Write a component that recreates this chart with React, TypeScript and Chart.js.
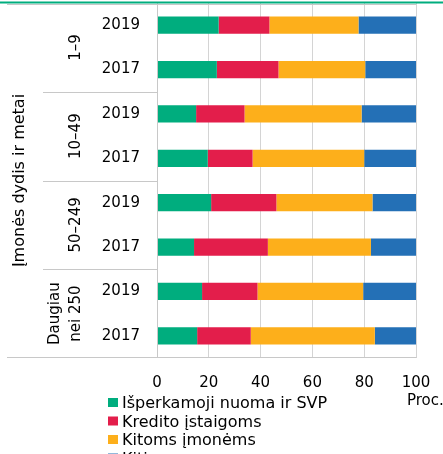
import React, { useEffect, useRef } from "react";
import { Chart, registerables } from "chart.js";

Chart.register(...registerables);

const categories = ["2019", "2017", "2019", "2017", "2019", "2017", "2019", "2017"];
const groupLabels: string[][] = [["1–9"], ["10–49"], ["50–249"], ["Daugiau", "nei 250"]];
const seriesNames = ["Išperkamoji nuoma ir SVP", "Kredito įstaigoms", "Kitoms įmonėms", "Kiti"];
const leasing = [23.8, 23.1, 15.1, 19.6, 20.9, 14.3, 17.4, 15.5];
const credit = [19.6, 23.8, 18.7, 17.3, 25.2, 28.5, 21.4, 20.7];
const otherCompanies = [34.4, 33.5, 45.2, 43.1, 37.1, 39.8, 40.8, 47.9];
const others = [22.2, 19.6, 21.0, 20.0, 16.8, 17.4, 20.4, 15.9];
const yTitle = "Įmonės dydis ir metai";
const xUnit = "Proc.";

const colors = ["#00ad7e", "#e31e4b", "#fdaf1b", "#2470b6"];
const FONT = "DejaVu Sans";
const GRID = "#d4d4d4";

const decorPlugin = {
  id: "decor",
  afterDraw(chart: any) {
    const ctx = chart.ctx as CanvasRenderingContext2D;
    const area = chart.chartArea;
    const y = chart.scales.y;
    ctx.save();
    // frame lines
    ctx.strokeStyle = "#c8c8c8";
    ctx.lineWidth = 1;
    ctx.beginPath();
    ctx.moveTo(7, 4.5);
    ctx.lineTo(area.right, 4.5);
    ctx.moveTo(7, area.bottom - 0.5);
    ctx.lineTo(area.right + 0.5, area.bottom - 0.5);
    ctx.moveTo(area.left + 0.5, 4);
    ctx.lineTo(area.left + 0.5, area.bottom);
    // group separators
    for (let g = 1; g < groupLabels.length; g++) {
      const sy = Math.round((y.getPixelForValue(2 * g - 1) + y.getPixelForValue(2 * g)) / 2) + 0.5;
      ctx.moveTo(43, sy);
      ctx.lineTo(area.left, sy);
    }
    ctx.stroke();
    // top green line
    ctx.fillStyle = "#00ad7e";
    ctx.fillRect(0, 1.5, chart.width, 2);

    ctx.fillStyle = "#000";
    ctx.textAlign = "center";
    ctx.textBaseline = "middle";
    // y title
    ctx.font = `16px ${FONT}`;
    ctx.save();
    ctx.translate(20, (area.top + area.bottom) / 2);
    ctx.rotate(-Math.PI / 2);
    ctx.fillText(yTitle, 0, 0);
    ctx.restore();
    // group labels
    ctx.font = `15px ${FONT}`;
    groupLabels.forEach((lines, g) => {
      const cy = (y.getPixelForValue(2 * g) + y.getPixelForValue(2 * g + 1)) / 2;
      ctx.save();
      if (lines.length === 1) {
        ctx.translate(76, cy);
        ctx.rotate(-Math.PI / 2);
        ctx.fillText(lines[0], 0, 0);
      } else {
        ctx.translate(66, cy);
        ctx.rotate(-Math.PI / 2);
        ctx.fillText(lines[0], 0, -10.5);
        ctx.fillText(lines[1], 0, 10.5);
      }
      ctx.restore();
    });
    // unit
    ctx.textAlign = "left";
    ctx.textBaseline = "alphabetic";
    ctx.fillText(xUnit, 407, 405);
    // legend
    ctx.font = `16px ${FONT}`;
    chart.data.datasets.forEach((ds: any, i: number) => {
      const base = 408 + i * 18.5;
      ctx.fillStyle = ds.backgroundColor;
      ctx.fillRect(108, base - 10, 10, 9);
      ctx.fillStyle = "#000";
      ctx.fillText(ds.label, 122, base);
    });
    ctx.restore();
  },
};

export default function App() {
  const ref = useRef<HTMLCanvasElement>(null);
  useEffect(() => {
    document.body.style.margin = "0";
    const series = [leasing, credit, otherCompanies, others];
    const chart = new Chart(ref.current!, {
      type: "bar",
      data: {
        labels: categories,
        datasets: series.map((d, i) => ({
          label: seriesNames[i],
          data: d,
          backgroundColor: colors[i],
          borderWidth: 0,
          categoryPercentage: 1,
          barPercentage: 0.39,
        })),
      },
      options: {
        indexAxis: "y",
        responsive: false,
        animation: false,
        devicePixelRatio: 1,
        layout: { padding: { top: 3, right: 27, left: 0, bottom: 0 } },
        plugins: { legend: { display: false }, tooltip: { enabled: false }, title: { display: false } },
        scales: {
          x: {
            stacked: true,
            min: 0,
            max: 100,
            ticks: { stepSize: 20, color: "#000", font: { family: FONT, size: 15 }, padding: 16, maxRotation: 0 },
            grid: { color: GRID, drawTicks: false },
            border: { display: false },
            afterFit: (s: any) => {
              s.height = 96;
              s.paddingLeft = 0;
              s.paddingRight = 0;
            },
          },
          y: {
            stacked: true,
            ticks: { color: "#000", font: { family: FONT, size: 15 }, padding: 17 },
            grid: { display: false, drawTicks: false },
            border: { display: false },
            afterFit: (s: any) => {
              s.width = 157;
              s.paddingTop = 0;
              s.paddingBottom = 0;
            },
          },
        },
      },
      plugins: [decorPlugin],
    } as any);
    return () => chart.destroy();
  }, []);
  return (
    <div style={{ width: 443, height: 454 }}>
      <canvas ref={ref} width={443} height={454} style={{ display: "block" }} />
    </div>
  );
}
